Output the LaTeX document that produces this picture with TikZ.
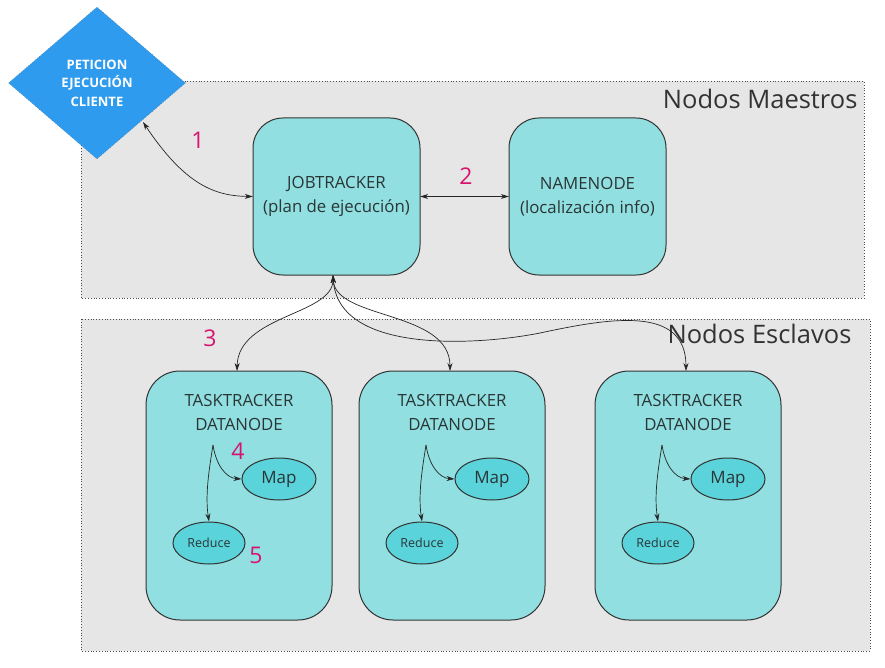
\documentclass[tikz,border=0pt]{standalone}
\usepackage{fontspec}
\setmainfont{Open Sans}
\usetikzlibrary{shapes.geometric,arrows.meta}
\definecolor{contfill}{HTML}{E6E6E6}
\definecolor{boxfill}{HTML}{91DFE0}
\definecolor{ellfill}{HTML}{5AD3DB}
\definecolor{diafill}{HTML}{2E9BEE}
\definecolor{numcol}{HTML}{D8136E}
\definecolor{txt}{HTML}{2A3536}
\tikzset{
  container/.style={draw=black!70, dotted, fill=contfill, line width=0.8pt},
  mbox/.style={draw=black!80, fill=boxfill, rounded corners=30pt, line width=1pt},
  tbox/.style={draw=black!80, fill=boxfill, rounded corners=34pt, line width=1pt},
  ell/.style={draw=black!80, fill=ellfill, ellipse, line width=1pt, text=txt},
  boxtext/.style={text=txt, font=\fontsize{16.8}{24}\selectfont, align=center},
  num/.style={text=numcol, font=\fontsize{23}{25}\selectfont},
  conn/.style={draw=black!85, line width=0.7pt},
  tip/.style={-{Stealth[length=8pt,width=5pt]}},
  dtip/.style={{Stealth[length=8pt,width=5pt]}-{Stealth[length=8pt,width=5pt]}},
}
\begin{document}
\begin{tikzpicture}[x=1pt,y=-1pt]
\useasboundingbox (0,0) rectangle (885,668);
% containers
\draw[container] (81,81) rectangle (864,298);
\draw[container] (81,319) rectangle (870,651);
\node[anchor=north east, text=black!80, font=\fontsize{25.5}{28}\selectfont] (lm) at (861,86) {Nodos Maestros};
\node[anchor=north east, text=black!80, font=\fontsize{25.5}{28}\selectfont] (le) at (855,321) {Nodos Esclavos};
% diamond
\node[diamond, draw=black!70, dotted, fill=diafill, minimum width=177pt, minimum height=152pt, inner sep=0pt, text=white, align=center, font=\bfseries\fontsize{13}{18.5}\selectfont] (cli) at (97,83) {PETICION\\EJECUCIÓN\\CLIENTE};
% master boxes
\path[mbox] (253,118) rectangle (420,275);
\node[boxtext, minimum width=167pt, minimum height=157pt] (jt) at (336.5,196.5) {JOBTRACKER\\(plan de ejecución)};
\path[mbox] (509,118) rectangle (666,275);
\node[boxtext, minimum width=157pt, minimum height=157pt] (nn) at (587.5,196.5) {NAMENODE\\(localización info)};
% slave boxes
\foreach \i/\x in {1/146,2/359,3/595}{
  \path[tbox] (\x,371) rectangle ({\x+186},620);
  \node[boxtext, minimum width=186pt, minimum height=249pt] (tt\i) at ({\x+93},495.5) {};
  \node[boxtext] (tl\i) at ({\x+93},412) {TASKTRACKER\\DATANODE};
  \coordinate (src\i) at ({\x+67},445);
  \node[ell, minimum width=74pt, minimum height=42pt, font=\fontsize{17}{20}\selectfont] (map\i) at ({\x+133},479) {Map};
  \node[ell, minimum width=72pt, minimum height=42pt, font=\fontsize{12.5}{15}\selectfont] (red\i) at ({\x+63},543) {Reduce};
  \draw[conn,tip] (src\i) .. controls ({\x+70},465) and ({\x+80},478) .. (map\i.west);
  \draw[conn,tip] (src\i) .. controls ({\x+63},470) and ({\x+59},495) .. (red\i.north);
}
% connectors
\coordinate (c1) at (143,122);
\draw[conn,dtip] (c1) .. controls (185,185) and (215,196) .. (jt.west);
\draw[conn,dtip] (jt.east) -- (nn.west);
\coordinate (jb) at (333,275);
\draw[conn,dtip] (jb) .. controls (333,315) and (238,315) .. (237,371);
\draw[conn,dtip] (jb) .. controls (335,320) and (450,310) .. (450,371);
\draw[conn,dtip] (jb) .. controls (338,355) and (480,345) .. (540,333) .. controls (610,318) and (686,305) .. (686,371);
% numbers
\node[num] (n1) at (198,140) {1};
\node[num] (n2) at (466,176) {2};
\node[num] (n3) at (210,338) {3};
\node[num] (n4) at (238,451) {4};
\node[num] (n5) at (256,555) {5};
\end{tikzpicture}
\end{document}
